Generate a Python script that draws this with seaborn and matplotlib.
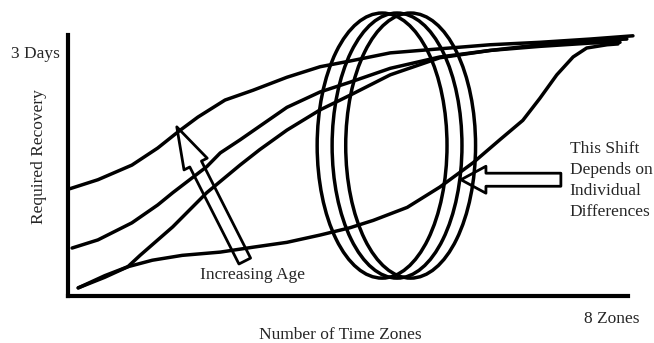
import numpy as np
import pandas as pd
import matplotlib
matplotlib.use("Agg")
import matplotlib.pyplot as plt
from matplotlib.patches import Ellipse
import seaborn as sns

# curves (x in time zones, y in days)
age_young_x = [0.03, 0.44, 0.94, 1.32, 1.62, 1.91, 2.31, 2.72, 3.22, 3.71, 4.15, 4.74, 5.47, 6.21, 6.94, 7.68, 8.31]
age_young_y = [1.32, 1.43, 1.61, 1.82, 2.02, 2.20, 2.41, 2.53, 2.69, 2.82, 2.89, 2.99, 3.04, 3.09, 3.12, 3.16, 3.20]

age_mid_x = [0.06, 0.44, 0.94, 1.32, 1.54, 2.04, 2.24, 2.53, 3.22, 3.71, 4.15, 4.74, 5.47, 6.21, 6.94, 7.68, 8.22]
age_mid_y = [0.59, 0.69, 0.90, 1.12, 1.27, 1.59, 1.76, 1.92, 2.32, 2.51, 2.63, 2.80, 2.94, 3.02, 3.09, 3.14, 3.16]

age_old_x = [0.15, 0.54, 0.88, 1.06, 1.54, 2.04, 2.53, 2.82, 3.22, 3.71, 4.15, 4.74, 5.47, 6.21, 6.94, 7.68, 8.12]
age_old_y = [0.10, 0.23, 0.36, 0.50, 0.85, 1.27, 1.61, 1.80, 2.04, 2.29, 2.47, 2.72, 2.93, 3.02, 3.07, 3.11, 3.12]

shift_x = [0.15, 0.54, 0.88, 1.24, 1.68, 2.24, 2.72, 3.22, 3.71, 4.15, 4.49, 4.99, 5.47, 5.96,
           6.35, 6.69, 6.94, 7.19, 7.43, 7.63, 7.93, 8.09]
shift_y = [0.10, 0.25, 0.36, 0.44, 0.50, 0.54, 0.60, 0.66, 0.75, 0.84, 0.93, 1.09, 1.34, 1.64,
           1.92, 2.16, 2.43, 2.72, 2.94, 3.05, 3.09, 3.10]

curves = [(age_young_x, age_young_y), (age_mid_x, age_mid_y),
          (age_old_x, age_old_y), (shift_x, shift_y)]

x_ticks = [8]
x_tick_labels = ["8 Zones"]
y_ticks = [3]
y_tick_labels = ["3 Days"]

sns.set_style("white")
plt.rcParams["font.family"] = ["Liberation Serif", "DejaVu Serif"]
fs = 12.5

fig = plt.figure(figsize=(6.54, 3.43), dpi=100)
ax = fig.add_axes([0.104, 0.137, 0.856, 0.761])

for cx, cy in curves:
    sns.lineplot(x=cx, y=cy, sort=False, estimator=None, color="black",
                 lw=2.5, ax=ax, clip_on=False,
                 solid_joinstyle="round", solid_capstyle="round")

# the three rings
for cx in [4.62, 4.84, 5.04]:
    ax.add_patch(Ellipse((cx, 1.85), 1.91, 3.26, fill=False, ec="black",
                         lw=2.5, clip_on=False))

# hollow arrows
ax.annotate("", xy=(1.60, 2.08), xytext=(2.60, 0.43),
            arrowprops=dict(arrowstyle="simple,head_length=3.0,head_width=1.87,tail_width=0.94",
                            mutation_scale=10, fc="none", ec="black", lw=2,
                            shrinkA=0, shrinkB=0))
ax.annotate("", xy=(5.78, 1.43), xytext=(7.25, 1.43),
            arrowprops=dict(arrowstyle="simple,head_length=1.8,head_width=1.94,tail_width=0.94",
                            mutation_scale=10, fc="none", ec="black", lw=2,
                            shrinkA=0, shrinkB=0))

ax.text(1.94, 0.26, "Increasing Age", fontsize=fs, ha="left", va="center")
ax.text(7.38, 1.42, "This Shift\nDepends on\nIndividual\nDifferences",
        fontsize=fs, ha="left", va="center", linespacing=1.4)

ax.set_xlim(0, 8.235)
ax.set_ylim(0, 3.21)
ax.set_xticks(x_ticks, x_tick_labels, fontsize=fs)
ax.set_yticks(y_ticks, y_tick_labels, fontsize=fs)
ax.tick_params(axis="both", length=0)
ax.tick_params(axis="x", pad=11)
ax.tick_params(axis="y", pad=6)

ax.set_xlabel("Number of Time Zones", fontsize=fs)
ax.set_ylabel("Required Recovery", fontsize=fs)
ax.xaxis.set_label_coords(0.486, -0.118)
ax.yaxis.set_label_coords(-0.0375, 0.533)

sns.despine(ax=ax)
for s in ["left", "bottom"]:
    ax.spines[s].set_linewidth(3)
    ax.spines[s].set_color("black")

fig.savefig("out.png", dpi=100)
